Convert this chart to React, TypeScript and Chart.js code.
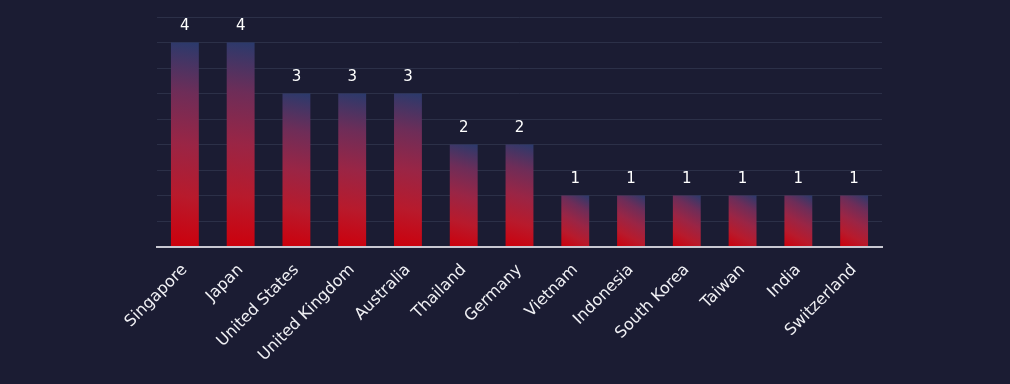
import React, { useEffect, useRef } from "react";
import { Chart, registerables } from "chart.js";

Chart.register(...registerables);

const categories = [
  "Singapore",
  "Japan",
  "United States",
  "United Kingdom",
  "Australia",
  "Thailand",
  "Germany",
  "Vietnam",
  "Indonesia",
  "South Korea",
  "Taiwan",
  "India",
  "Switzerland",
];
const counts = [4, 4, 3, 3, 3, 2, 2, 1, 1, 1, 1, 1, 1];

const BG = "#1b1c33";
const FONT = "'DejaVu Sans', sans-serif";

const valueLabels = {
  id: "valueLabels",
  afterDatasetsDraw(chart: any) {
    const ctx = chart.ctx;
    const meta = chart.getDatasetMeta(0);
    ctx.save();
    ctx.fillStyle = "#ffffff";
    ctx.font = `15px ${FONT}`;
    ctx.textAlign = "center";
    ctx.textBaseline = "alphabetic";
    meta.data.forEach((bar: any, i: number) => {
      ctx.fillText(String(counts[i]), bar.x, bar.y - 13);
    });
    ctx.restore();
  },
};

export default function App() {
  const ref = useRef<HTMLCanvasElement | null>(null);
  useEffect(() => {
    document.body.style.margin = "0";
    document.body.style.background = BG;
    const chart = new Chart(ref.current as HTMLCanvasElement, {
      type: "bar",
      data: {
        labels: categories,
        datasets: [
          {
            data: counts,
            backgroundColor: (c: any) => {
              const chart = c.chart;
              const { chartArea } = chart;
              if (!chartArea || c.dataIndex === undefined) return "#a01a30";
              const xs = chart.scales.x;
              const ys = chart.scales.y;
              const cx = xs.getPixelForValue(c.dataIndex);
              const half = 14;
              const top = ys.getPixelForValue(counts[c.dataIndex]);
              const bot = ys.getPixelForValue(0);
              const g = chart.ctx.createLinearGradient(cx - half, bot, cx + half, top);
              g.addColorStop(0, "#cc000c");
              g.addColorStop(0.25, "#b81a2c");
              g.addColorStop(0.5, "#9a2545");
              g.addColorStop(0.75, "#6e2d58");
              g.addColorStop(1, "#2a3a6c");
              return g;
            },
            borderWidth: 0,
            barPercentage: 0.5,
            categoryPercentage: 1,
          },
        ],
      },
      options: {
        animation: false,
        responsive: false,
        maintainAspectRatio: false,
        layout: { padding: { left: 157, right: 128, top: 17, bottom: 5 } },
        plugins: { legend: { display: false }, tooltip: { enabled: false } },
        scales: {
          x: {
            grid: { display: false, drawTicks: false },
            border: { display: true, color: "#c8c8d2", width: 2 },
            ticks: {
              color: "#f0f0f4",
              font: { family: FONT, size: 16 },
              minRotation: 45,
              maxRotation: 45,
              padding: 14,
              autoSkip: false,
            },
          },
          y: {
            min: 0,
            max: 4.5,
            ticks: { display: false, stepSize: 0.5 },
            grid: { color: "#2c3048", lineWidth: 1, drawTicks: false },
            border: { display: false },
          },
        },
      },
      plugins: [valueLabels],
    });
    return () => chart.destroy();
  }, []);
  return (
    <div style={{ position: "fixed", left: 0, top: 0, width: 1010, height: 384, background: BG }}>
      <canvas ref={ref} width={1010} height={384} />
    </div>
  );
}
